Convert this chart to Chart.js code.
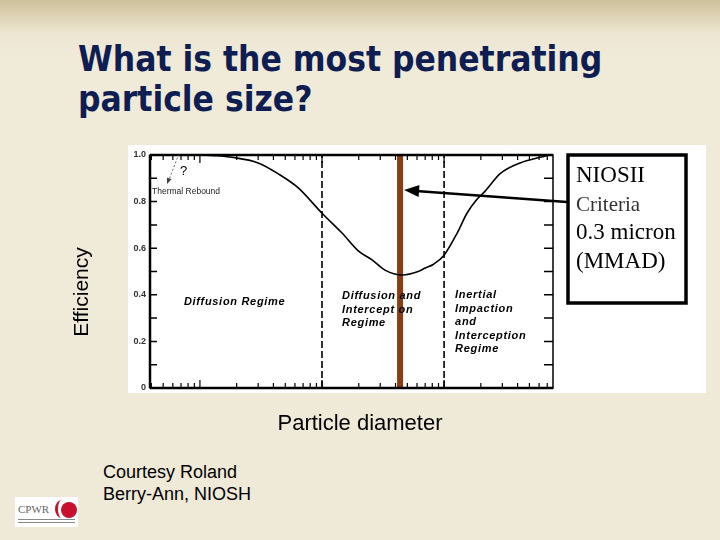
<!DOCTYPE html>
<html>
<head>
<meta charset="utf-8">
<script src="https://cdn.jsdelivr.net/npm/chart.js@4.4.1/dist/chart.umd.min.js"></script>
<style>
  html, body { margin: 0; padding: 0; }
  body {
    width: 720px; height: 540px; position: relative; overflow: hidden;
    background: linear-gradient(#cfc19b 0px, #ede6d3 34px, #f0ead9 60px, #efe9d8 100%);
    font-family: Arial, "Liberation Sans", sans-serif;
  }
  #title {
    position: absolute; left: 78px; top: 39px; margin: 0;
    font: bold 35px "DejaVu Sans Condensed", "DejaVu Sans", sans-serif;
    font-stretch: condensed; line-height: 40px; color: #0e1d52;
  }
  #photo { position: absolute; left: 128px; top: 145px; width: 578px; height: 248px; background: #fff; }
  #courtesy { position: absolute; left: 103px; top: 461px; font-size: 18px; line-height: 22px; color: #000; }
  #logo { position: absolute; left: 15px; top: 497px; width: 63px; height: 30px; background: #fff; }
  #logo .cpwr { position: absolute; left: 3px; top: 6px; font: 11px "Liberation Serif", serif; color: #666; }
  #logo .dot { position: absolute; left: 46px; top: 5px; width: 16px; height: 16px; border-radius: 50%; background: #c8102e; }
  #logo .ring { position: absolute; left: 40px; top: 3px; width: 10px; height: 18px; border-radius: 50%; border-left: 3px solid #c8102e; }
  #logo .small { position: absolute; left: 3px; top: 22px; width: 57px; height: 2px; border-top: 1px solid #888; border-bottom: 1px solid #888; }
  canvas { position: absolute; left: 0; top: 0; }
</style>
</head>
<body>
<div id="title">What is the most penetrating<br>particle size?</div>
<div id="photo"></div>
<div id="courtesy">Courtesy Roland<br>Berry-Ann, NIOSH</div>
<div id="logo"><span class="cpwr">CPWR</span><span class="ring"></span><span class="dot"></span><span class="small"></span></div>
<canvas id="chart" width="720" height="540"></canvas>
<script>
// particle diameter (um, log axis) and collection efficiency
const diameters = [0.0039, 0.010, 0.0133, 0.0183, 0.030, 0.0436, 0.0636, 0.10, 0.146, 0.197,
                   0.257, 0.328, 0.453, 0.613, 0.70, 0.813, 1.0, 1.28, 1.54, 1.86, 2.17, 2.88, 4.2, 6.1, 7.4];
const efficiency = [1.0, 1.0, 0.997, 0.99, 0.966, 0.92, 0.86, 0.75, 0.665, 0.59,
                    0.55, 0.506, 0.485, 0.50, 0.515, 0.53, 0.57, 0.665, 0.75, 0.81, 0.845, 0.92, 0.966, 0.99, 1.0];
const regimeBounds = [0.1, 1.0];   // dashed regime boundaries
const mppsSize = 0.436;            // brown bar, most penetrating size
const effTicks = [0, 0.2, 0.4, 0.6, 0.8, 1.0];
const xRange = [0.0039, 7.8];

const regimeLabels = [
  { at: 0.0074, lines: ['Diffusion Regime'], y: 0.355 },
  { at: 0.1, dx: 20, lines: ['Diffusion and', 'Intercept on', 'Regime'], y: 0.38 },
  { at: 1.0, dx: 11, lines: ['Inertial', 'Impaction', 'and', 'Interception', 'Regime'], y: 0.385 }
];
const nioshLines = ['NIOSII', 'Criteria', '0.3 micron', '(MMAD)'];

function vline(x) {
  return [{ x: x, y: 0 }, { x: x, y: 1 }];
}

function arrowHead(ctx, x1, y1, x2, y2, len, half) {
  const a = Math.atan2(y2 - y1, x2 - x1);
  ctx.beginPath();
  ctx.moveTo(x2, y2);
  ctx.lineTo(x2 - len * Math.cos(a) + half * Math.sin(a), y2 - len * Math.sin(a) - half * Math.cos(a));
  ctx.lineTo(x2 - len * Math.cos(a) - half * Math.sin(a), y2 - len * Math.sin(a) + half * Math.cos(a));
  ctx.closePath();
  ctx.fill();
}

const figureExtras = {
  id: 'figureExtras',
  afterDatasetsDraw(chart) {
    const { ctx, chartArea: area, scales: { x, y } } = chart;
    ctx.save();
    ctx.strokeStyle = '#000';
    ctx.fillStyle = '#000';

    // frame
    ctx.lineWidth = 1.5;
    ctx.strokeRect(area.left, area.top, area.right - area.left, area.bottom - area.top);
    ctx.lineWidth = 2.5;
    ctx.beginPath();
    ctx.moveTo(area.left, area.top); ctx.lineTo(area.right, area.top);
    ctx.moveTo(area.left, area.top); ctx.lineTo(area.left, area.bottom);
    ctx.moveTo(area.left, area.bottom); ctx.lineTo(area.right, area.bottom);
    ctx.stroke();

    // inward y ticks, both sides
    ctx.lineWidth = 1.5;
    ctx.beginPath();
    for (let i = 1; i < 10; i++) {
      const py = y.getPixelForValue(i / 10);
      ctx.moveTo(area.left, py); ctx.lineTo(area.left + 7, py);
      ctx.moveTo(area.right, py); ctx.lineTo(area.right - 9, py);
    }
    ctx.stroke();

    // log ticks top and bottom
    ctx.lineWidth = 1.2;
    ctx.beginPath();
    for (let k = -3; k <= 1; k++) {
      for (let m = 1; m <= 9; m++) {
        const v = m * Math.pow(10, k);
        if (v <= xRange[0] || v >= xRange[1]) continue;
        const px = x.getPixelForValue(v);
        const len = m === 1 ? 8 : 5;
        ctx.moveTo(px, area.top); ctx.lineTo(px, area.top + len);
        ctx.moveTo(px, area.bottom); ctx.lineTo(px, area.bottom - len);
      }
    }
    ctx.stroke();

    // regime labels
    ctx.font = 'italic bold 11px Arial';
    ctx.letterSpacing = '0.7px';
    ctx.textBaseline = 'alphabetic';
    regimeLabels.forEach(r => {
      const px = x.getPixelForValue(r.at) + (r.dx || 0);
      const py = y.getPixelForValue(r.y);
      r.lines.forEach((t, i) => ctx.fillText(t, px, py + i * 13.5));
    });
    ctx.letterSpacing = '0px';

    // thermal rebound note
    ctx.font = '13px Arial';
    ctx.fillText('?', area.left + 30, area.top + 20);
    ctx.font = '8.5px Arial';
    ctx.fillStyle = '#222';
    ctx.fillText('Thermal Rebound', area.left + 2, area.top + 39);
    ctx.strokeStyle = '#444';
    ctx.lineWidth = 0.8;
    ctx.setLineDash([2, 2]);
    ctx.beginPath();
    ctx.moveTo(area.left + 29, area.top - 1);
    ctx.lineTo(area.left + 18, area.top + 27);
    ctx.stroke();
    ctx.setLineDash([]);
    ctx.fillStyle = '#444';
    arrowHead(ctx, area.left + 29, area.top - 1, area.left + 17, area.top + 29, 6, 2.5);

    // NIOSH callout box
    ctx.strokeStyle = '#000';
    ctx.fillStyle = '#000';
    ctx.lineWidth = 3.5;
    ctx.strokeRect(568, 155, 118, 148);
    nioshLines.forEach((t, i) => {
      ctx.font = (i === 1 ? '21px' : '23px') + ' "Liberation Serif", "Times New Roman", serif';
      ctx.fillStyle = i === 1 ? '#333' : '#000';
      ctx.fillText(t, 576, 182 + i * 28.5);
    });

    // arrow from box to the bar
    const barPx = x.getPixelForValue(mppsSize);
    ctx.fillStyle = '#000';
    ctx.lineWidth = 2.5;
    ctx.beginPath();
    ctx.moveTo(567, 202);
    ctx.lineTo(barPx + 16, 191);
    ctx.stroke();
    arrowHead(ctx, 567, 202, barPx + 4, 190, 15, 6);

    // axis titles
    ctx.font = '22px Arial';
    ctx.textAlign = 'center';
    ctx.fillText('Particle diameter', 360, 430);
    ctx.save();
    ctx.translate(88, 292);
    ctx.rotate(-Math.PI / 2);
    ctx.font = '21px Arial';
    ctx.fillText('Efficiency', 0, 0);
    ctx.restore();

    ctx.restore();
  }
};

new Chart(document.getElementById('chart'), {
  type: 'line',
  data: {
    datasets: [
      {
        label: 'Efficiency',
        data: diameters.map((d, i) => ({ x: d, y: efficiency[i] })),
        borderColor: '#000',
        borderWidth: 1.6,
        pointRadius: 0,
        cubicInterpolationMode: 'monotone'
      },
      ...regimeBounds.map(b => ({
        label: 'Boundary',
        data: vline(b),
        borderColor: '#000',
        borderWidth: 1.6,
        borderDash: [7, 3],
        pointRadius: 0
      })),
      {
        label: 'MPPS',
        data: vline(mppsSize),
        borderColor: '#8a3c14',
        borderWidth: 6,
        pointRadius: 0
      }
    ]
  },
  options: {
    responsive: false,
    animation: false,
    layout: { padding: { left: 73, top: 155, right: 167, bottom: 152 } },
    plugins: { legend: { display: false }, tooltip: { enabled: false } },
    scales: {
      x: {
        type: 'logarithmic',
        min: xRange[0],
        max: xRange[1],
        display: false
      },
      y: {
        min: 0,
        max: 1,
        afterBuildTicks: s => { s.ticks = effTicks.map(v => ({ value: v })); },
        afterFit: s => { s.width = 77; },
        grid: { display: false, drawTicks: false },
        border: { display: false },
        ticks: {
          padding: 4,
          color: '#333',
          font: { family: 'Arial', size: 9, weight: 'bold' },
          callback: v => (v === 0 ? '0' : v.toFixed(1))
        }
      }
    }
  },
  plugins: [figureExtras]
});
</script>
</body>
</html>
